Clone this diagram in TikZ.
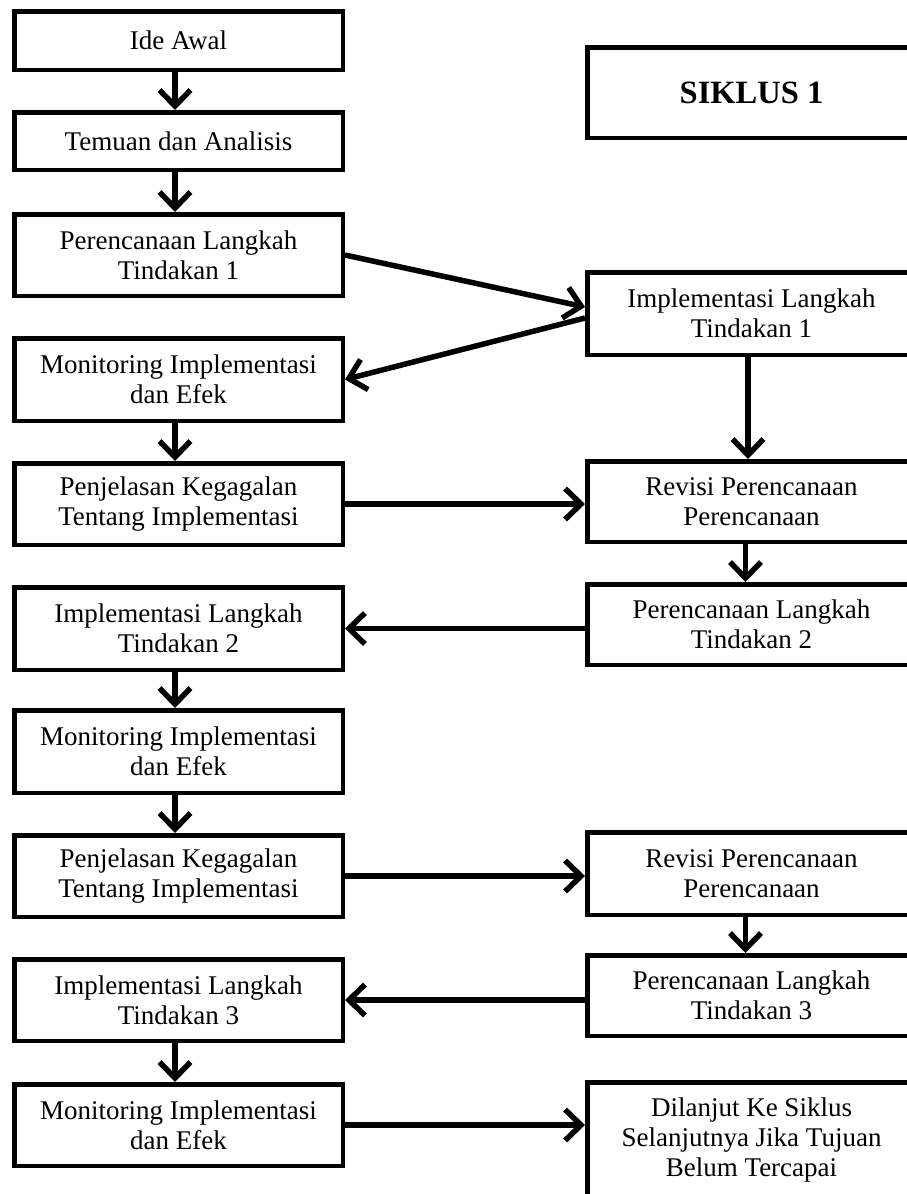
\documentclass[tikz,border=0pt]{standalone}
\usepackage{fontspec}
\setmainfont{Liberation Serif}
\usetikzlibrary{arrows.meta}
\begin{document}
\begin{tikzpicture}[x=1pt,y=-1pt,
  box/.style={draw, line width=4.5pt, minimum width=328.5pt, inner sep=0pt, align=center,
    font=\fontsize{27}{30}\selectfont},
  arr/.style={line width=5.5pt, -{Straight Barb[length=16pt,width=31pt]}}]
\useasboundingbox (0,0) rectangle (907,1194);
% left column
\node[box, minimum height=58.5pt] (ide) at (178.5,40.5) {Ide Awal};
\node[box, minimum height=57.5pt] (tem) at (178.5,141) {Temuan dan Analisis};
\node[box, minimum height=81.5pt] (p1) at (178.5,255) {Perencanaan Langkah\\Tindakan 1};
\node[box, minimum height=82.5pt] (m1) at (178.5,379.5) {Monitoring Implementasi\\dan Efek};
\node[box, minimum height=81.5pt] (pj1) at (178.5,504) {Penjelasan Kegagalan\\Tentang Implementasi};
\node[box, minimum height=82.5pt] (i2) at (178.5,628.5) {Implementasi Langkah\\Tindakan 2};
\node[box, minimum height=82.5pt] (m2) at (178.5,751.5) {Monitoring Implementasi\\dan Efek};
\node[box, minimum height=81.5pt] (pj2) at (178.5,876) {Penjelasan Kegagalan\\Tentang Implementasi};
\node[box, minimum height=81.5pt] (i3) at (178.5,1000) {Implementasi Langkah\\Tindakan 3};
\node[box, minimum height=81.5pt] (m3) at (178.5,1125) {Monitoring Implementasi\\dan Efek};
% right column
\node[box, minimum height=90.5pt, font=\fontsize{32.5}{36}\selectfont\bfseries] (sik) at (751.5,92.5) {SIKLUS 1};
\node[box, minimum height=82.5pt] (ri1) at (751.5,313.5) {Implementasi Langkah\\Tindakan 1};
\node[box, minimum height=80.5pt] (rv1) at (751.5,501.5) {Revisi Perencanaan\\Perencanaan};
\node[box, minimum height=80.5pt] (rp2) at (751.5,624.5) {Perencanaan Langkah\\Tindakan 2};
\node[box, minimum height=82.5pt] (rv2) at (751.5,873.5) {Revisi Perencanaan\\Perencanaan};
\node[box, minimum height=80.5pt] (rp3) at (751.5,995.5) {Perencanaan Langkah\\Tindakan 3};
\node[box, anchor=north, inner ysep=16pt] (dl) at (751.5,1080) {Dilanjut Ke Siklus\\Selanjutnya Jika Tujuan\\Belum Tercapai};
% arrows left column
\draw[arr] ([xshift=-3.5pt]ide.south) -- ([xshift=-3.5pt]tem.north);
\draw[arr] ([xshift=-3.5pt]tem.south) -- ([xshift=-3.5pt]p1.north);
\draw[arr] ([xshift=-3.5pt]m1.south) -- ([xshift=-3.5pt]pj1.north);
\draw[arr] ([xshift=-3.5pt]i2.south) -- ([xshift=-3.5pt]m2.north);
\draw[arr] ([xshift=-3.5pt]m2.south) -- ([xshift=-3.5pt]pj2.north);
\draw[arr] ([xshift=-3.5pt]i3.south) -- ([xshift=-3.5pt]m3.north);
% cross arrows
\draw[arr] (p1.east) -- ([yshift=6.5pt]ri1.west);
\draw[arr] ([yshift=-4.5pt]ri1.west) -- (m1.east);
\draw[arr] ([xshift=-3.5pt]ri1.south) -- ([xshift=-3.5pt]rv1.north);
\draw[arr] (pj1.east) -- (pj1.east -| rv1.west);
\draw[arr] ([xshift=-6pt]rv1.south) -- ([xshift=-6pt]rp2.north);
\draw[arr] (rp2.west |- i2.east) -- (i2.east);
\draw[arr] (pj2.east) -- (pj2.east -| rv2.west);
\draw[arr] ([xshift=-6pt]rv2.south) -- ([xshift=-6pt]rp3.north);
\draw[arr] (rp3.west |- i3.east) -- (i3.east);
\draw[arr] (m3.east) -- (m3.east -| dl.west);
\end{tikzpicture}
\end{document}
